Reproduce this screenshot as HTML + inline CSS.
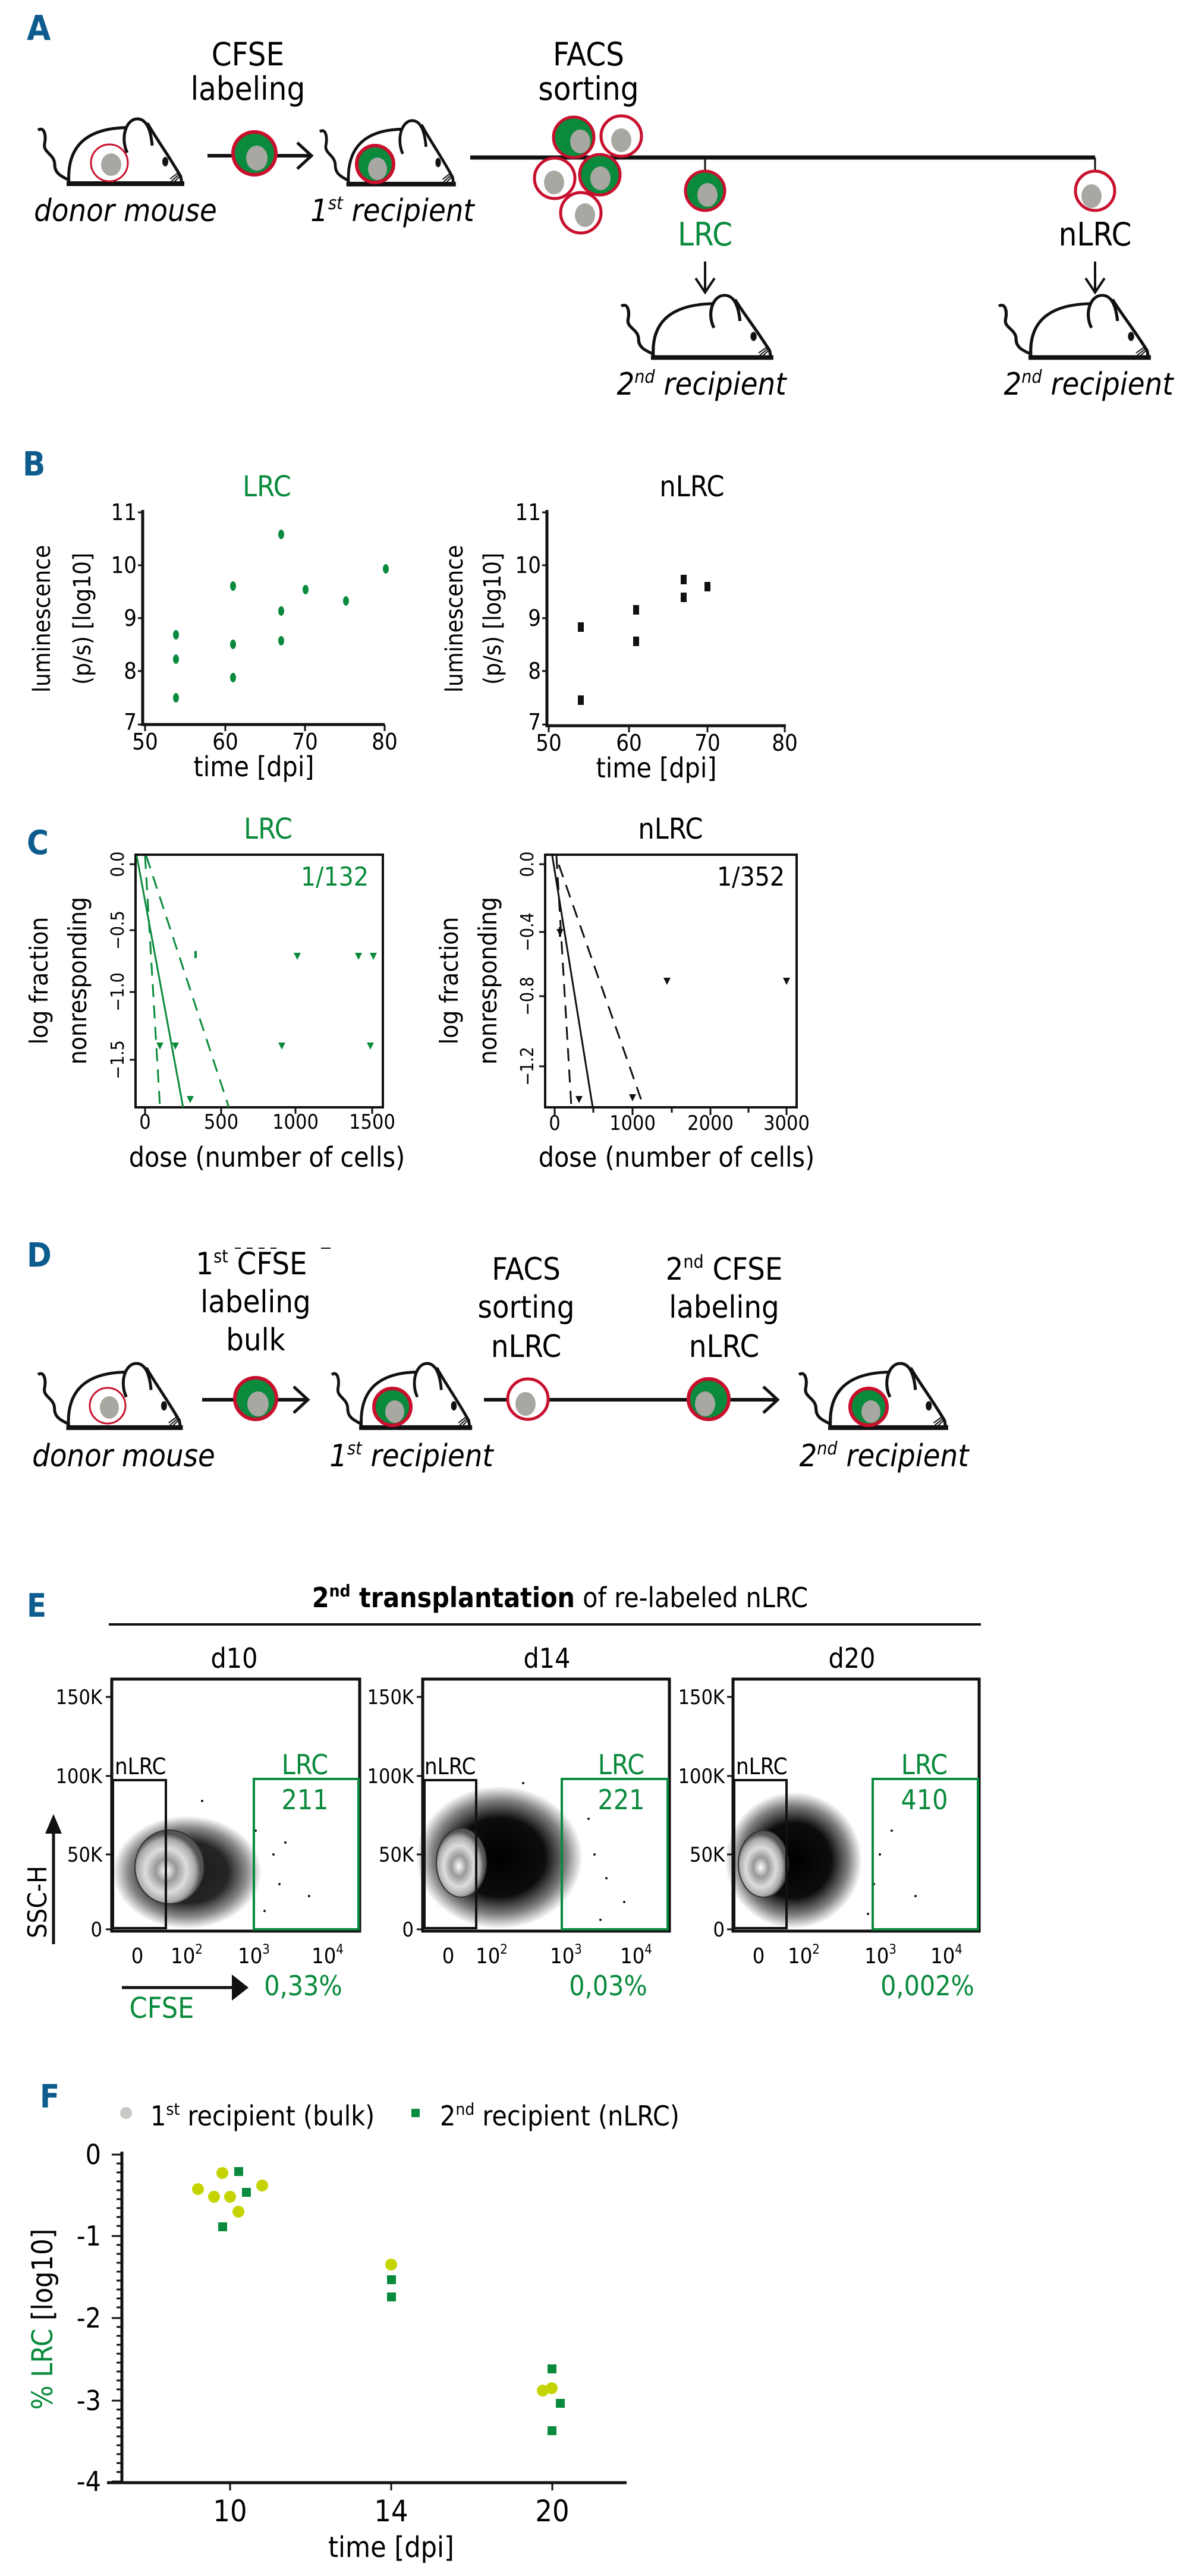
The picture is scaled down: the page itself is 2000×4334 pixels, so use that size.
<!DOCTYPE html>
<html><head><meta charset="utf-8"><style>
html,body{margin:0;padding:0;background:#fff}
svg{display:block}
text{font-family:"DejaVu Sans Condensed","Liberation Sans Narrow","Liberation Sans",sans-serif}
.c{text-anchor:middle}
.r{text-anchor:end}
.it{font-style:italic}
.w{font-family:"DejaVu Sans","Liberation Sans",sans-serif}
.lab{fill:#0e5c8e;font-weight:bold}
.g{fill:#0a8a3c}
</style></head><body>
<svg width="2000" height="4334" viewBox="0 0 2000 4334" xmlns="http://www.w3.org/2000/svg">
<defs>
<g id="mouse">
 <path d="M0,22 C10,15 14,30 11,45 C8,60 28,62 28,80 C28,95 40,100 52,106" fill="none" stroke="#111" stroke-width="5"/>
 <path d="M52,112 C48,55 75,22 140,18 L160,17 L185,12 C198,35 220,65 240,100 L242,112 Z" fill="#fff" stroke="#111" stroke-width="5"/>
 <path d="M150,60 C138,35 148,2 168,3 C184,4 190,25 192,48" fill="#fff" stroke="#111" stroke-width="5"/>
 <ellipse cx="214" cy="75" rx="5" ry="8" fill="#111"/>
 <path d="M238,92 L222,104 M238,96 L224,108 M238,100 L228,110" stroke="#111" stroke-width="2"/>
 <line x1="48" y1="112" x2="246" y2="112" stroke="#111" stroke-width="8"/>
</g>
<radialGradient id="cloud" cx="50%" cy="50%" r="50%">
 <stop offset="0" stop-color="#000"/><stop offset="0.55" stop-color="#000" stop-opacity="0.95"/><stop offset="0.8" stop-color="#000" stop-opacity="0.5"/><stop offset="1" stop-color="#000" stop-opacity="0"/>
</radialGradient>
<radialGradient id="cont" cx="45%" cy="55%" r="50%">
 <stop offset="0" stop-color="#fff"/><stop offset="0.3" stop-color="#999"/><stop offset="0.6" stop-color="#ddd"/><stop offset="0.85" stop-color="#aaa"/><stop offset="1" stop-color="#555"/>
</radialGradient>
</defs>

<!-- ===== A ===== -->
<text x="45" y="67" class="lab" font-size="58">A</text>
<text x="417" y="110" class="c" font-size="54">CFSE</text>
<text x="417" y="168" class="c" font-size="54">labeling</text>
<text x="990" y="110" class="c" font-size="54">FACS</text>
<text x="990" y="168" class="c" font-size="54">sorting</text>

<use href="#mouse" transform="translate(64,197)"/>
<circle cx="184" cy="274" r="31" fill="#fff" stroke="#c8102e" stroke-width="3"/>
<ellipse cx="187" cy="277" rx="17" ry="19" fill="#a8a7a2"/>
<text x="211" y="372" class="c it" font-size="52">donor mouse</text>

<line x1="349" y1="262" x2="520" y2="262" stroke="#111" stroke-width="6"/>
<path d="M500,240 L524,262 L500,284" fill="none" stroke="#111" stroke-width="5"/>
<circle cx="428" cy="258" r="36" fill="#0a8a3c" stroke="#c8102e" stroke-width="6"/>
<ellipse cx="432" cy="266" rx="18" ry="21" fill="#a8a7a2"/>

<use href="#mouse" transform="translate(538,200) scale(0.93,0.98)"/>
<circle cx="631" cy="276" r="31" fill="#0a8a3c" stroke="#c8102e" stroke-width="6"/>
<ellipse cx="635" cy="284" rx="16" ry="19" fill="#a8a7a2"/>
<text x="660" y="372" class="c it" font-size="52">1<tspan font-size="30" dy="-20">st</tspan><tspan dy="20"> recipient</tspan></text>

<line x1="791" y1="265" x2="1842" y2="265" stroke="#111" stroke-width="7"/>
<g stroke="#c8102e" stroke-width="5">
<circle cx="965" cy="231" r="34" fill="#0a8a3c"/>
<circle cx="1045" cy="229" r="34" fill="#fff"/>
<circle cx="933" cy="300" r="34" fill="#fff"/>
<circle cx="1009" cy="294" r="34" fill="#0a8a3c"/>
<circle cx="977" cy="358" r="34" fill="#fff"/>
</g>
<g fill="#a8a7a2">
<ellipse cx="976" cy="238" rx="17" ry="20"/><ellipse cx="1045" cy="236" rx="17" ry="20"/>
<ellipse cx="932" cy="307" rx="17" ry="20"/><ellipse cx="1010" cy="300" rx="17" ry="20"/>
<ellipse cx="984" cy="362" rx="17" ry="20"/>
</g>

<line x1="1186" y1="265" x2="1186" y2="288" stroke="#111" stroke-width="3"/>
<circle cx="1186" cy="321" r="33" fill="#0a8a3c" stroke="#c8102e" stroke-width="5"/>
<ellipse cx="1190" cy="328" rx="17" ry="20" fill="#a8a7a2"/>
<text x="1186" y="413" class="c g" font-size="54">LRC</text>
<line x1="1186" y1="440" x2="1186" y2="490" stroke="#111" stroke-width="4"/>
<path d="M1170,468 L1186,492 L1202,468" fill="none" stroke="#111" stroke-width="4"/>
<use href="#mouse" transform="translate(1045,494) scale(1.04,0.96)"/>
<text x="1180" y="664" class="c it" font-size="52">2<tspan font-size="30" dy="-20">nd</tspan><tspan dy="20"> recipient</tspan></text>

<line x1="1842" y1="265" x2="1842" y2="288" stroke="#111" stroke-width="3"/>
<circle cx="1842" cy="321" r="33" fill="#fff" stroke="#c8102e" stroke-width="5"/>
<ellipse cx="1836" cy="330" rx="17" ry="20" fill="#a8a7a2"/>
<text x="1842" y="413" class="c" font-size="54">nLRC</text>
<line x1="1842" y1="440" x2="1842" y2="490" stroke="#111" stroke-width="4"/>
<path d="M1826,468 L1842,492 L1858,468" fill="none" stroke="#111" stroke-width="4"/>
<use href="#mouse" transform="translate(1680,494) scale(1.04,0.96)"/>
<text x="1831" y="664" class="c it" font-size="52">2<tspan font-size="30" dy="-20">nd</tspan><tspan dy="20"> recipient</tspan></text>

<!-- ===== B ===== -->
<text x="38" y="800" class="lab" font-size="56">B</text>
<text x="449" y="835" class="c g" font-size="48">LRC</text>
<text x="1164" y="835" class="c" font-size="48">nLRC</text>

<g stroke="#111" stroke-width="5" fill="none">
<path d="M240,858 V1219 H647"/>
<path d="M920,858 V1221 H1322"/>
</g>
<g stroke="#111" stroke-width="3">
<path d="M232,862 H240 M232,951 H240 M232,1040 H240 M232,1129 H240 M232,1219 H240 M244,1219 V1230 M379,1219 V1230 M513,1219 V1230 M647,1219 V1230"/>
<path d="M912,862 H920 M912,951 H920 M912,1040 H920 M912,1129 H920 M912,1219 H920 M923,1221 V1232 M1058,1221 V1232 M1190,1221 V1232 M1320,1221 V1232"/>
</g>
<g font-size="38" class="r">
<text x="230" y="875">11</text><text x="230" y="964">10</text><text x="230" y="1053">9</text><text x="230" y="1142">8</text><text x="230" y="1228">7</text>
<text x="910" y="875">11</text><text x="910" y="964">10</text><text x="910" y="1053">9</text><text x="910" y="1142">8</text><text x="910" y="1228">7</text>
</g>
<g font-size="38" class="c">
<text x="244" y="1261">50</text><text x="379" y="1261">60</text><text x="513" y="1261">70</text><text x="647" y="1261">80</text>
<text x="923" y="1263">50</text><text x="1058" y="1263">60</text><text x="1190" y="1263">70</text><text x="1320" y="1263">80</text>
</g>
<text x="427" y="1306" class="c" font-size="46">time [dpi]</text>
<text x="1104" y="1308" class="c" font-size="46">time [dpi]</text>
<g class="w c" font-size="40">
<text transform="translate(84,1041) rotate(-90)">luminescence</text>
<text transform="translate(152,1041) rotate(-90)">(p/s) [log10]</text>
<text transform="translate(778,1041) rotate(-90)">luminescence</text>
<text transform="translate(842,1041) rotate(-90)">(p/s) [log10]</text>
</g>
<g fill="#0a8a3c">
<ellipse cx="296" cy="1068" rx="5" ry="8"/><ellipse cx="296" cy="1109" rx="5" ry="8"/><ellipse cx="296" cy="1174" rx="5" ry="8"/>
<ellipse cx="392" cy="986" rx="5" ry="8"/><ellipse cx="392" cy="1084" rx="5" ry="8"/><ellipse cx="392" cy="1140" rx="5" ry="8"/>
<ellipse cx="473" cy="899" rx="5" ry="8"/><ellipse cx="473" cy="1028" rx="5" ry="8"/><ellipse cx="473" cy="1078" rx="5" ry="8"/>
<ellipse cx="514" cy="992" rx="5" ry="8"/><ellipse cx="582" cy="1011" rx="5" ry="8"/><ellipse cx="649" cy="957" rx="5" ry="8"/>
</g>
<g fill="#111">
<rect x="972" y="1047" width="10" height="16"/><rect x="972" y="1170" width="10" height="16"/>
<rect x="1065" y="1018" width="10" height="16"/><rect x="1065" y="1071" width="10" height="16"/>
<rect x="1145" y="967" width="10" height="16"/><rect x="1145" y="997" width="10" height="16"/>
<rect x="1185" y="979" width="10" height="16"/>
</g>

<!-- ===== C ===== -->
<text x="45" y="1437" class="lab" font-size="56">C</text>
<text x="451" y="1411" class="c g" font-size="48">LRC</text>
<text x="1128" y="1411" class="c" font-size="48">nLRC</text>
<rect x="228" y="1438" width="416" height="425" fill="none" stroke="#111" stroke-width="4"/>
<rect x="917" y="1438" width="423" height="425" fill="none" stroke="#111" stroke-width="4"/>
<g stroke="#111" stroke-width="3">
<path d="M244,1863 V1874 M372,1863 V1874 M497,1863 V1874 M626,1863 V1874 M228,1454 H218 M228,1565 H218 M228,1669 H218 M228,1783 H218"/>
<path d="M933,1863 V1876 M998,1863 V1872 M1064,1863 V1876 M1130,1863 V1872 M1195,1863 V1876 M1259,1863 V1872 M1323,1863 V1876 M917,1454 H907 M917,1568 H907 M917,1676 H907 M917,1794 H907"/>
</g>
<g font-size="34" class="c">
<text x="244" y="1899">0</text><text x="372" y="1899">500</text><text x="497" y="1899">1000</text><text x="626" y="1899">1500</text>
<text x="933" y="1901">0</text><text x="1064" y="1901">1000</text><text x="1195" y="1901">2000</text><text x="1323" y="1901">3000</text>
</g>
<g class="w c" font-size="30">
<text transform="translate(208,1454) rotate(-90)">0.0</text>
<text transform="translate(208,1565) rotate(-90)">−0.5</text>
<text transform="translate(208,1669) rotate(-90)">−1.0</text>
<text transform="translate(208,1783) rotate(-90)">−1.5</text>
<text transform="translate(897,1454) rotate(-90)">0.0</text>
<text transform="translate(897,1568) rotate(-90)">−0.4</text>
<text transform="translate(897,1676) rotate(-90)">−0.8</text>
<text transform="translate(897,1794) rotate(-90)">−1.2</text>
</g>
<g class="w c" font-size="42">
<text transform="translate(80,1650) rotate(-90)">log fraction</text>
<text transform="translate(145,1650) rotate(-90)">nonresponding</text>
<text transform="translate(770,1650) rotate(-90)">log fraction</text>
<text transform="translate(835,1650) rotate(-90)">nonresponding</text>
</g>
<text x="449" y="1963" class="c" font-size="46">dose (number of cells)</text>
<text x="1138" y="1963" class="c" font-size="46">dose (number of cells)</text>
<text x="620" y="1490" class="r g" font-size="44">1/132</text>
<text x="1320" y="1490" class="r" font-size="44">1/352</text>
<g fill="none" stroke="#0a8a3c" stroke-width="3">
<line x1="230" y1="1440" x2="308" y2="1863"/>
<line x1="244" y1="1440" x2="269" y2="1861" stroke-dasharray="22,14"/>
<line x1="246" y1="1440" x2="385" y2="1863" stroke-dasharray="22,14"/>
</g>
<g fill="none" stroke="#111" stroke-width="3">
<line x1="929" y1="1440" x2="997" y2="1863"/>
<line x1="936" y1="1440" x2="961" y2="1861" stroke-dasharray="22,14"/>
<line x1="940" y1="1455" x2="1083" y2="1863" stroke-dasharray="22,14"/>
</g>
<g fill="#0a8a3c">
<rect x="327" y="1600" width="4" height="12"/>
<path d="M494,1603 h12 l-6,12z M597,1603 h12 l-6,12z M622,1603 h12 l-6,12z"/>
<path d="M263,1754 h12 l-6,12z M289,1754 h12 l-6,12z M468,1754 h12 l-6,12z M617,1754 h12 l-6,12z M314,1844 h12 l-6,12z"/>
</g>
<g fill="#111">
<path d="M936,1563 h12 l-6,12z M1116,1645 h12 l-6,12z M1317,1645 h12 l-6,12z M968,1844 h12 l-6,12z M1058,1841 h12 l-6,12z"/>
<rect x="940" y="1560" width="4" height="16"/>
</g>

<!-- ===== D ===== -->
<text x="45" y="2131" class="lab" font-size="56">D</text>
<text x="423" y="2144" class="c" font-size="52">1<tspan font-size="30" dy="-20">st</tspan><tspan dy="20"> CFSE</tspan></text>
<path d="M395,2100 h10 M415,2100 h10 M435,2100 h10 M455,2100 h10 M540,2100 h16" stroke="#111" stroke-width="2"/>
<text x="430" y="2208" class="c" font-size="52">labeling</text>
<text x="430" y="2272" class="c" font-size="52">bulk</text>
<text x="885" y="2153" class="c" font-size="52">FACS</text>
<text x="885" y="2217" class="c" font-size="52">sorting</text>
<text x="885" y="2283" class="c" font-size="52">nLRC</text>
<text x="1218" y="2153" class="c" font-size="52">2<tspan font-size="30" dy="-20">nd</tspan><tspan dy="20"> CFSE</tspan></text>
<text x="1218" y="2217" class="c" font-size="52">labeling</text>
<text x="1218" y="2283" class="c" font-size="52">nLRC</text>

<use href="#mouse" transform="translate(64,2291) scale(0.99,0.99)"/>
<circle cx="181" cy="2365" r="30" fill="#fff" stroke="#c8102e" stroke-width="3"/>
<ellipse cx="184" cy="2368" rx="16" ry="19" fill="#a8a7a2"/>
<line x1="340" y1="2355" x2="515" y2="2355" stroke="#111" stroke-width="6"/>
<path d="M494,2333 L518,2355 L494,2377" fill="none" stroke="#111" stroke-width="5"/>
<circle cx="430" cy="2353" r="35" fill="#0a8a3c" stroke="#c8102e" stroke-width="6"/>
<ellipse cx="434" cy="2362" rx="18" ry="21" fill="#a8a7a2"/>
<use href="#mouse" transform="translate(558,2291) scale(0.96,0.99)"/>
<circle cx="660" cy="2367" r="31" fill="#0a8a3c" stroke="#c8102e" stroke-width="6"/>
<ellipse cx="664" cy="2375" rx="16" ry="19" fill="#a8a7a2"/>
<line x1="814" y1="2355" x2="1304" y2="2355" stroke="#111" stroke-width="6"/>
<path d="M1284,2333 L1308,2355 L1284,2377" fill="none" stroke="#111" stroke-width="5"/>
<circle cx="888" cy="2354" r="34" fill="#fff" stroke="#c8102e" stroke-width="5"/>
<ellipse cx="884" cy="2362" rx="17" ry="20" fill="#a8a7a2"/>
<circle cx="1192" cy="2354" r="34" fill="#0a8a3c" stroke="#c8102e" stroke-width="6"/>
<ellipse cx="1186" cy="2362" rx="17" ry="21" fill="#a8a7a2"/>
<use href="#mouse" transform="translate(1344,2291) scale(1.02,0.99)"/>
<circle cx="1461" cy="2367" r="31" fill="#0a8a3c" stroke="#c8102e" stroke-width="6"/>
<ellipse cx="1465" cy="2375" rx="16" ry="19" fill="#a8a7a2"/>
<text x="208" y="2467" class="c it" font-size="52">donor mouse</text>
<text x="692" y="2467" class="c it" font-size="52">1<tspan font-size="30" dy="-20">st</tspan><tspan dy="20"> recipient</tspan></text>
<text x="1487" y="2467" class="c it" font-size="52">2<tspan font-size="30" dy="-20">nd</tspan><tspan dy="20"> recipient</tspan></text>

<!-- ===== E ===== -->
<text x="45" y="2720" class="lab" font-size="54">E</text>
<text x="942" y="2704" class="c" font-size="46"><tspan font-weight="bold">2<tspan font-size="28" dy="-18">nd</tspan><tspan dy="18"> transplantation</tspan></tspan> of re-labeled nLRC</text>
<line x1="183" y1="2733" x2="1650" y2="2733" stroke="#111" stroke-width="4"/>
<text x="394" y="2806" class="c" font-size="46">d10</text>
<text x="920" y="2806" class="c" font-size="46">d14</text>
<text x="1433" y="2806" class="c" font-size="46">d20</text>

<!-- clouds -->
<ellipse cx="315" cy="3150" rx="125" ry="95" fill="url(#cloud)" opacity="0.9"/>
<ellipse cx="285" cy="3141" rx="58" ry="62" fill="url(#cont)" stroke="#333" stroke-width="2"/>
<ellipse cx="840" cy="3125" rx="140" ry="120" fill="url(#cloud)"/>
<ellipse cx="776" cy="3134" rx="42" ry="58" fill="url(#cont)" stroke="#333" stroke-width="2"/>
<ellipse cx="1335" cy="3130" rx="115" ry="115" fill="url(#cloud)"/>
<ellipse cx="1284" cy="3136" rx="42" ry="56" fill="url(#cont)" stroke="#333" stroke-width="2"/>
<g fill="#111">
<circle cx="460" cy="3120" r="2"/><circle cx="470" cy="3170" r="2"/><circle cx="430" cy="3080" r="2"/><circle cx="520" cy="3190" r="2"/><circle cx="445" cy="3215" r="2"/><circle cx="340" cy="3030" r="2"/><circle cx="480" cy="3100" r="2"/>
<circle cx="1000" cy="3120" r="2"/><circle cx="1020" cy="3160" r="2"/><circle cx="990" cy="3060" r="2"/><circle cx="1050" cy="3200" r="2"/><circle cx="880" cy="3000" r="2"/><circle cx="1010" cy="3230" r="2"/>
<circle cx="1480" cy="3120" r="2"/><circle cx="1470" cy="3170" r="2"/><circle cx="1500" cy="3080" r="2"/><circle cx="1540" cy="3190" r="2"/><circle cx="1460" cy="3220" r="2"/>
</g>
<g fill="none" stroke="#111" stroke-width="5">
<rect x="188" y="2825" width="417" height="424"/>
<rect x="711" y="2825" width="415" height="424"/>
<rect x="1233" y="2825" width="414" height="424"/>
</g>
<g fill="none" stroke="#111" stroke-width="4">
<rect x="190" y="2995" width="89" height="249"/>
<rect x="714" y="2995" width="87" height="249"/>
<rect x="1235" y="2995" width="88" height="249"/>
</g>
<g fill="none" stroke="#0a8a3c" stroke-width="4">
<rect x="427" y="2993" width="176" height="253"/>
<rect x="945" y="2993" width="178" height="253"/>
<rect x="1468" y="2993" width="177" height="253"/>
</g>
<g font-size="34" class="r">
<text x="172" y="2867">150K</text><text x="172" y="3000">100K</text><text x="172" y="3132">50K</text><text x="172" y="3258">0</text>
<text x="696" y="2867">150K</text><text x="696" y="3000">100K</text><text x="696" y="3132">50K</text><text x="696" y="3258">0</text>
<text x="1219" y="2867">150K</text><text x="1219" y="3000">100K</text><text x="1219" y="3132">50K</text><text x="1219" y="3258">0</text>
</g>
<g stroke="#111" stroke-width="3">
<path d="M178,2855 H188 M178,2988 H188 M178,3120 H188 M178,3246 H188"/>
<path d="M701,2855 H711 M701,2988 H711 M701,3120 H711 M701,3246 H711"/>
<path d="M1223,2855 H1233 M1223,2988 H1233 M1223,3120 H1233 M1223,3246 H1233"/>
</g>
<g font-size="38">
<text x="193" y="2985">nLRC</text><text x="714" y="2985">nLRC</text><text x="1238" y="2985">nLRC</text>
</g>
<g font-size="46" class="c g">
<text x="513" y="2985">LRC</text><text x="513" y="3044">211</text>
<text x="1045" y="2985">LRC</text><text x="1045" y="3044">221</text>
<text x="1555" y="2985">LRC</text><text x="1555" y="3044">410</text>
</g>
<g font-size="36" class="c">
<text x="231" y="3303">0</text><text x="314" y="3303">10<tspan font-size="22" dy="-16">2</tspan></text><text x="427" y="3303">10<tspan font-size="22" dy="-16">3</tspan></text><text x="551" y="3303">10<tspan font-size="22" dy="-16">4</tspan></text>
<text x="754" y="3303">0</text><text x="827" y="3303">10<tspan font-size="22" dy="-16">2</tspan></text><text x="952" y="3303">10<tspan font-size="22" dy="-16">3</tspan></text><text x="1070" y="3303">10<tspan font-size="22" dy="-16">4</tspan></text>
<text x="1276" y="3303">0</text><text x="1352" y="3303">10<tspan font-size="22" dy="-16">2</tspan></text><text x="1481" y="3303">10<tspan font-size="22" dy="-16">3</tspan></text><text x="1592" y="3303">10<tspan font-size="22" dy="-16">4</tspan></text>
</g>
<g font-size="46" class="c g">
<text x="510" y="3357">0,33%</text><text x="1023" y="3357">0,03%</text><text x="1560" y="3357">0,002%</text>
</g>
<line x1="205" y1="3344" x2="405" y2="3344" stroke="#111" stroke-width="5"/>
<path d="M390,3322 L418,3344 L390,3366 Z" fill="#111"/>
<text x="272" y="3395" class="c g" font-size="48">CFSE</text>
<line x1="90" y1="3271" x2="90" y2="3070" stroke="#111" stroke-width="5"/>
<path d="M76,3085 L90,3052 L104,3085 Z" fill="#111"/>
<text transform="translate(78,3200) rotate(-90)" class="c" font-size="44">SSC-H</text>

<!-- ===== F ===== -->
<text x="67" y="3546" class="lab" font-size="54">F</text>
<circle cx="212" cy="3555" r="10" fill="#c8c8c4"/>
<text x="253" y="3576" font-size="46">1<tspan font-size="28" dy="-18">st</tspan><tspan dy="18"> recipient (bulk)</tspan></text>
<rect x="692" y="3548" width="14" height="14" fill="#0a8a3c"/>
<text x="740" y="3576" font-size="46">2<tspan font-size="28" dy="-18">nd</tspan><tspan dy="18"> recipient (nLRC)</tspan></text>
<g stroke="#111" stroke-width="5" fill="none">
<path d="M205,3620 V4177 M180,4177 H1054"/>
</g>
<g stroke="#111" stroke-width="3">
<path d="M188,3625 H205 M188,3762 H205 M188,3900 H205 M188,4039 H205 M188,4175 H205 M387,4177 V4190 M658,4177 V4190 M929,4177 V4190"/>
<path d="M196,3640 H205 M196,3655 H205 M196,3670 H205 M196,3685 H205 M196,3700 H205 M196,3715 H205 M196,3730 H205 M196,3745 H205 M196,3777 H205 M196,3792 H205 M196,3807 H205 M196,3822 H205 M196,3837 H205 M196,3852 H205 M196,3867 H205 M196,3882 H205 M196,3915 H205 M196,3930 H205 M196,3945 H205 M196,3960 H205 M196,3975 H205 M196,3990 H205 M196,4005 H205 M196,4020 H205 M196,4054 H205 M196,4069 H205 M196,4084 H205 M196,4099 H205 M196,4114 H205 M196,4129 H205 M196,4144 H205 M196,4159 H205"/>
</g>
<g font-size="46" class="r">
<text x="170" y="3641">0</text><text x="170" y="3778">-1</text><text x="170" y="3916">-2</text><text x="170" y="4055">-3</text><text x="170" y="4191">-4</text>
</g>
<g font-size="50" class="c">
<text x="387" y="4242">10</text><text x="658" y="4242">14</text><text x="929" y="4242">20</text>
</g>
<text x="658" y="4302" class="c" font-size="48">time [dpi]</text>
<text transform="translate(88,3902) rotate(-90)" class="c" font-size="48"><tspan class="g">% LRC</tspan>  [log10]</text>
<g fill="#c5d400">
<circle cx="333" cy="3683" r="10"/><circle cx="374" cy="3656" r="10"/><circle cx="360" cy="3696" r="10"/><circle cx="387" cy="3696" r="10"/><circle cx="401" cy="3721" r="10"/><circle cx="441" cy="3677" r="10"/><circle cx="658" cy="3810" r="10"/><circle cx="913" cy="4022" r="10"/><circle cx="928" cy="4018" r="10"/>
</g>
<g fill="#0a8a3c">
<rect x="394" y="3646" width="15" height="15"/><rect x="407" y="3681" width="15" height="15"/><rect x="367" y="3739" width="15" height="15"/><rect x="651" y="3828" width="15" height="15"/><rect x="651" y="3857" width="15" height="15"/><rect x="921" y="3978" width="15" height="15"/><rect x="935" y="4036" width="15" height="15"/><rect x="921" y="4082" width="15" height="15"/>
</g>
</svg>
</body></html>
